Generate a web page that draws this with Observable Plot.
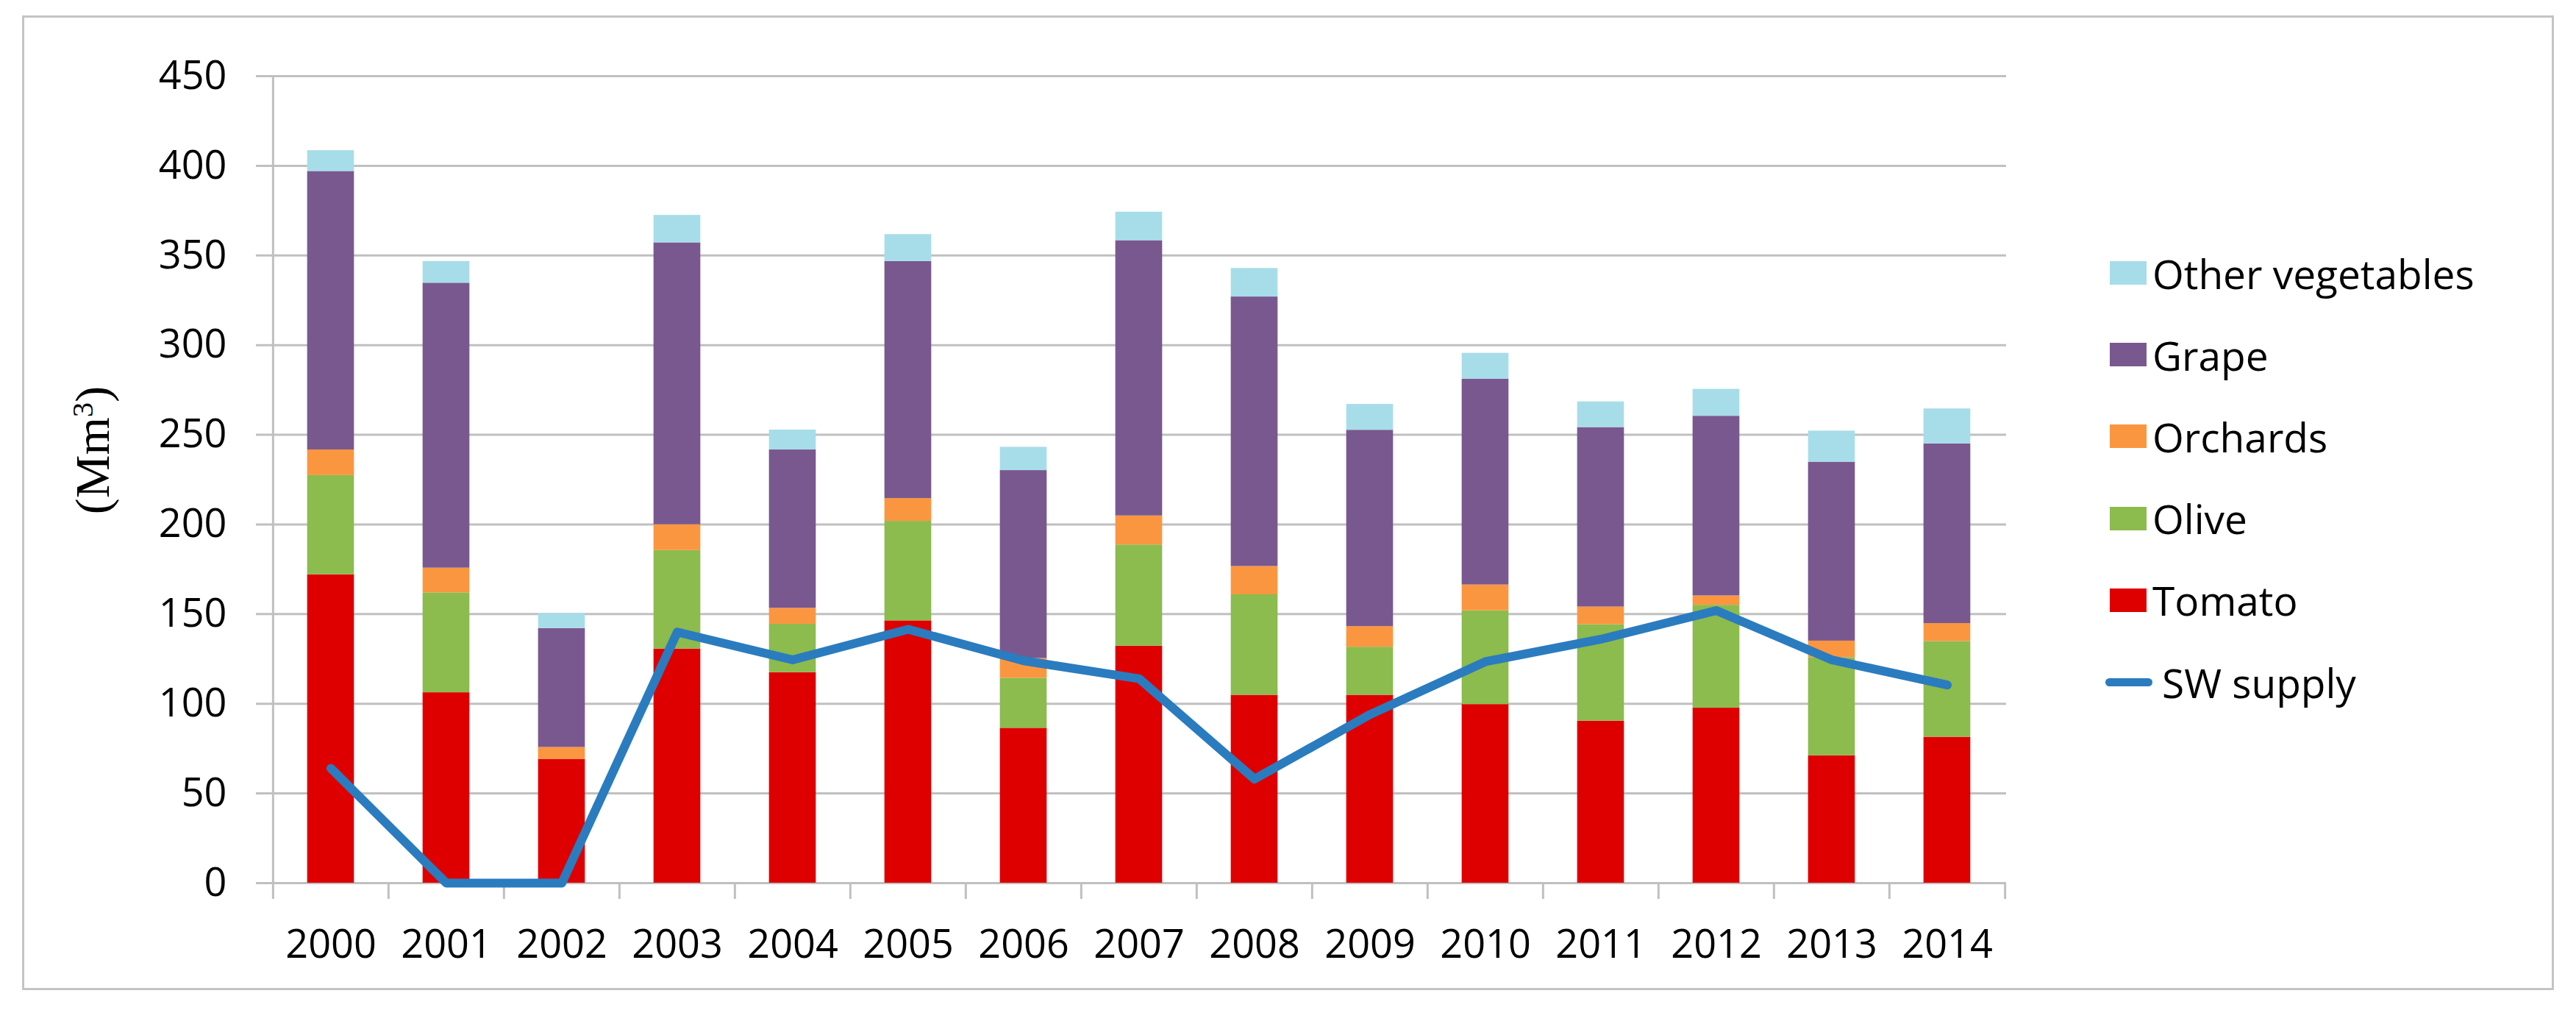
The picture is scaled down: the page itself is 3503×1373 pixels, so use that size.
<!DOCTYPE html>
<html>
<head>
<meta charset="utf-8">
<script src="https://cdn.jsdelivr.net/npm/d3@7"></script>
<script src="https://cdn.jsdelivr.net/npm/@observablehq/plot@0.6"></script>
<style>
  html, body { margin: 0; padding: 0; background: #fff; }
  #wrap { position: relative; width: 3503px; height: 1373px; overflow: hidden; background: #fff; }
  #frame { position: absolute; left: 30px; top: 21px; width: 3437px; height: 1319px; border: 3px solid #c4c4c4; pointer-events: none; }
  #chart { position: absolute; left: 0; top: 0; }
  #ytitle { position: absolute; left: 126px; top: 612px; transform: translate(-50%, -50%) rotate(-90deg);
            font-family: "Liberation Serif", "DejaVu Serif", serif; font-size: 66px; white-space: nowrap; color: #000; }
  #ytitle sup { font-size: 0.62em; vertical-align: 0.55em; line-height: 0; }
  .lg-row { position: absolute; height: 80px; display: flex; align-items: center;
            font-family: "Open Sans", sans-serif; font-size: 55px; color: #000; white-space: nowrap; }
  .lg-sw { width: 50px; height: 32px; margin-right: 8px; }
  .lg-line { width: 64px; height: 11px; border-radius: 6px; margin-right: 13px; }
</style>
</head>
<body>
<div id="wrap">
  <div id="chart"></div>
  <div id="ytitle">(Mm<sup>3</sup>)</div>
  <div id="frame"></div>
</div>
<script>
// ---- data ----
const years = [2000, 2001, 2002, 2003, 2004, 2005, 2006, 2007, 2008, 2009, 2010, 2011, 2012, 2013, 2014];
const tomato   = [172.0, 106.2, 69.1, 130.6, 117.4, 146.3, 86.4, 132.2, 104.8, 104.8, 99.6, 90.4, 97.6, 71.1, 81.4];
const olive    = [55.3, 55.7, 0.0, 54.9, 27.0, 55.5, 27.9, 56.4, 56.0, 26.8, 52.3, 53.8, 57.4, 54.7, 53.4];
const orchards = [14.3, 13.8, 6.6, 14.4, 8.9, 12.7, 11.0, 16.2, 15.8, 11.5, 14.4, 9.8, 5.2, 9.2, 10.0];
const grape    = [155.3, 158.9, 66.3, 157.2, 88.3, 132.2, 104.8, 153.5, 150.3, 109.5, 114.8, 100.1, 100.2, 99.8, 100.2];
const otherVeg = [11.6, 12.1, 8.5, 15.3, 11.1, 15.0, 13.0, 15.9, 15.9, 14.4, 14.4, 14.3, 15.0, 17.3, 19.5];
const swSupply = [64, 0, 0, 140, 124.5, 141.5, 124, 114, 58, 94, 123.5, 136, 152, 124.5, 110.5];

const seriesNames  = ["Tomato", "Olive", "Orchards", "Grape", "Other vegetables"];
const seriesValues = [tomato, olive, orchards, grape, otherVeg];
const seriesColors = ["#de0000", "#8cbb4e", "#fb9640", "#79588f", "#a7dde8"];
const lineName  = "SW supply";
const lineColor = "#2a7cbf";
const yTicks = [0, 50, 100, 150, 200, 250, 300, 350, 400, 450];

// ---- layout ----
const W = 3503, H = 1373;
const mL = 368, mR = 775, mT = 103, mB = 173;
const innerW = W - mL - mR, innerH = H - mT - mB;
const step = innerW / years.length;
const barW = 64;
const gridColor = "#c0c0c0";

const tidy = seriesNames.flatMap((s, si) => years.map((yr, i) => ({year: yr, crop: s, value: seriesValues[si][i]})));
const lineData = years.map((yr, i) => ({year: yr, v: swSupply[i]}));

const chart = Plot.plot({
  width: W, height: H,
  marginLeft: mL, marginRight: mR, marginTop: mT, marginBottom: mB,
  style: {fontFamily: "'Open Sans', sans-serif", fontSize: "54px", color: "#000", background: "transparent", overflow: "visible"},
  x: {type: "band", domain: years, padding: 0},
  y: {domain: [0, 450]},
  color: {domain: seriesNames, range: seriesColors},
  marks: [
    Plot.ruleY(yTicks, {stroke: gridColor, strokeWidth: 3, insetLeft: -20}),
    Plot.barY(tidy, Plot.stackY({x: "year", y: "value", z: "crop", fill: "crop",
      insetLeft: (step - barW) / 2, insetRight: (step - barW) / 2})),
    // y axis line
    Plot.ruleX([years[0]], {dx: -step / 2, stroke: gridColor, strokeWidth: 3, insetBottom: -22}),
    // category boundary ticks
    Plot.ruleX(years.slice(1), {dx: -step / 2, stroke: gridColor, strokeWidth: 3, insetTop: innerH, insetBottom: -22}),
    Plot.ruleX([years[years.length - 1]], {dx: step / 2, stroke: gridColor, strokeWidth: 3, insetTop: innerH, insetBottom: -22}),
    Plot.line(lineData, {x: "year", y: "v", stroke: lineColor, strokeWidth: 12, strokeLinecap: "round", strokeLinejoin: "round"}),
    Plot.axisY(yTicks, {tickSize: 0, tickPadding: 60, label: null, fontSize: 54}),
    Plot.axisX(years, {tickSize: 0, tickPadding: 63, label: null, fontSize: 54, tickFormat: d => String(d)})
  ]
});
document.getElementById("chart").appendChild(chart);

// ---- legend ----
const wrap = document.getElementById("wrap");
const legendItems = seriesNames.map((n, i) => ({name: n, color: seriesColors[i], type: "box"})).reverse();
legendItems.push({name: lineName, color: lineColor, type: "line"});
legendItems.forEach((it, i) => {
  const cy = 371 + i * 111.2;
  const row = document.createElement("div");
  row.className = "lg-row";
  row.style.left = (it.type === "line" ? 2863 : 2869) + "px";
  row.style.top = (cy - 40) + "px";
  const sw = document.createElement("div");
  sw.className = it.type === "line" ? "lg-line" : "lg-sw";
  sw.style.background = it.color;
  const tx = document.createElement("span");
  tx.textContent = it.name;
  row.appendChild(sw);
  row.appendChild(tx);
  wrap.appendChild(row);
});
</script>
</body>
</html>
